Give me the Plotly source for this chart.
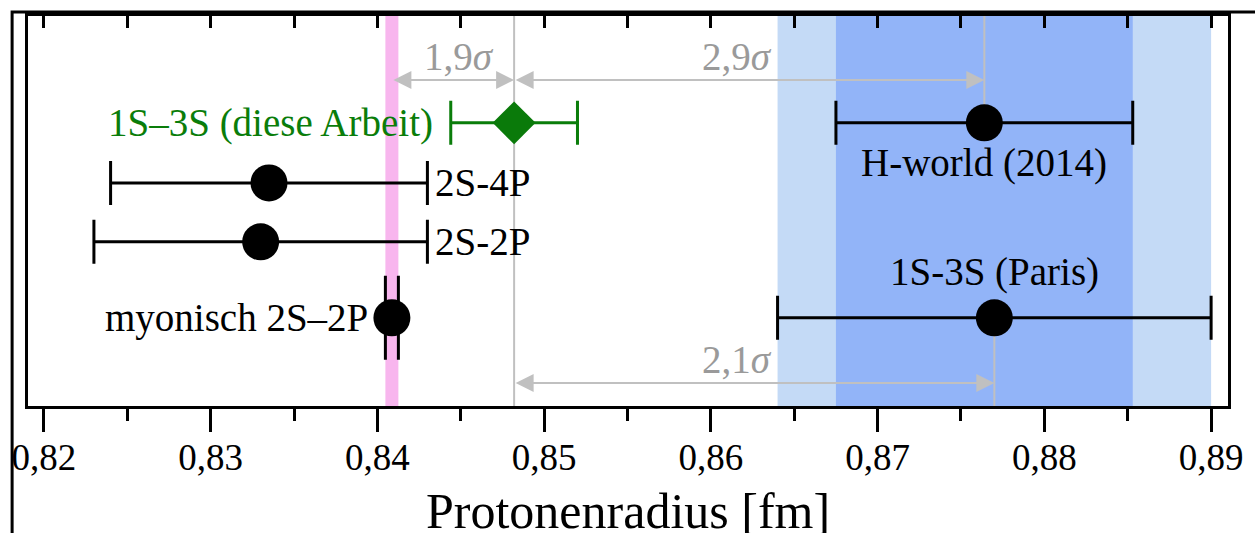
import plotly.graph_objects as go

# ---- data ----
labels = ["1S–3S (diese Arbeit)", "2S-4P", "2S-2P", "myonisch 2S–2P", "H-world (2014)", "1S-3S (Paris)"]
radius = [0.8482, 0.8335, 0.8330, 0.84087, 0.8764, 0.8770]
err = [0.0038, 0.0095, 0.0100, 0.00039, 0.0089, 0.0130]
sigma_labels = ["1,9<i>σ</i>", "2,9<i>σ</i>", "2,1<i>σ</i>"]
tick_vals = [0.82, 0.83, 0.84, 0.85, 0.86, 0.87, 0.88, 0.89]
tick_text = ["0,82", "0,83", "0,84", "0,85", "0,86", "0,87", "0,88", "0,89"]
minor_vals = [0.825, 0.835, 0.845, 0.855, 0.865, 0.875, 0.885]

# ---- layout constants (row positions in axis units, 0 bottom .. 10 top) ----
ROW = [7.26, 5.72, 4.21, 2.26, 7.26, 2.26]
Y_ARROW_TOP, Y_ARROW_BOT = 8.36, 0.59
Y_SIG_TOP, Y_SIG_BOT = 8.95, 1.18

FONT = "Liberation Serif"
GREEN = "#0a7d0a"
GRAY = "#c0c0c0"
TXTGRAY = "#9a9a9a"
FS = 39

fig = go.Figure()

shapes = [
    dict(type="rect", xref="x", yref="paper", x0=radius[5] - err[5], x1=radius[5] + err[5], y0=0, y1=1,
         fillcolor="#c4daf6", line_width=0, layer="below"),
    dict(type="rect", xref="x", yref="paper", x0=radius[4] - err[4], x1=radius[4] + err[4], y0=0, y1=1,
         fillcolor="#92b4f8", line_width=0, layer="below"),
    dict(type="rect", xref="x", yref="paper", x0=radius[3] - err[3], x1=radius[3] + err[3], y0=0, y1=1,
         fillcolor="#f8b6ee", line_width=0, layer="below"),
    dict(type="line", xref="x", yref="paper", x0=radius[0], x1=radius[0], y0=0, y1=1,
         line=dict(color=GRAY, width=2), layer="below"),
    dict(type="line", xref="x", yref="y", x0=radius[4], x1=radius[4], y0=ROW[4], y1=10,
         line=dict(color=GRAY, width=2), layer="below"),
    dict(type="line", xref="x", yref="y", x0=radius[5], x1=radius[5], y0=0, y1=ROW[5],
         line=dict(color=GRAY, width=2), layer="below"),
    # outer frame
    dict(type="rect", xref="paper", yref="paper", x0=-16 / 1208, x1=1.05, y0=-0.5, y1=1 + 4 / 390,
         line=dict(color="black", width=3), fillcolor="rgba(0,0,0,0)", layer="above"),
]

widths = {1: 22, 2: 22, 3: 42, 4: 22, 5: 22}
for i in [1, 2, 3, 4, 5]:
    fig.add_trace(go.Scatter(
        x=[radius[i]], y=[ROW[i]], mode="markers",
        marker=dict(symbol="circle", size=37, color="black"),
        error_x=dict(type="data", array=[err[i]], color="black", thickness=3, width=widths[i]),
        showlegend=False, hoverinfo="skip"))

fig.add_trace(go.Scatter(
    x=[radius[0]], y=[ROW[0]], mode="markers",
    marker=dict(symbol="diamond", size=33, color="#0a7a0a"),
    error_x=dict(type="data", array=[err[0]], color=GREEN, thickness=3, width=22),
    showlegend=False, hoverinfo="skip"))

ann = []
tf = dict(family=FONT, size=FS, color="black")
ann.append(dict(x=radius[0] - err[0], y=ROW[0], text=labels[0], xanchor="right", yanchor="middle",
                xshift=-16, showarrow=False, font=dict(family=FONT, size=FS, color=GREEN)))
ann.append(dict(x=radius[1] + err[1], y=ROW[1], text=labels[1], xanchor="left", yanchor="middle",
                xshift=6, showarrow=False, font=tf))
ann.append(dict(x=radius[2] + err[2], y=ROW[2], text=labels[2], xanchor="left", yanchor="middle",
                xshift=6, showarrow=False, font=tf))
ann.append(dict(x=radius[3], y=ROW[3], text=labels[3], xanchor="right", yanchor="middle",
                xshift=-22, showarrow=False, font=tf))
ann.append(dict(x=radius[4], y=ROW[4], text=labels[4], xanchor="center", yanchor="middle",
                yshift=-40, showarrow=False, font=tf))
ann.append(dict(x=radius[5], y=ROW[5], text=labels[5], xanchor="center", yanchor="middle",
                yshift=46, showarrow=False, font=tf))

arrow_style = dict(showarrow=True, arrowhead=2, startarrowhead=2, arrowside="end+start",
                   arrowcolor=GRAY, arrowwidth=2, arrowsize=1.8, startarrowsize=1.8,
                   axref="x", ayref="y", text="", standoff=0, startstandoff=0)
ann.append(dict(x=radius[0], y=Y_ARROW_TOP, ax=radius[3], ay=Y_ARROW_TOP, **arrow_style))
ann.append(dict(x=radius[4], y=Y_ARROW_TOP, ax=radius[0], ay=Y_ARROW_TOP, **arrow_style))
ann.append(dict(x=radius[5], y=Y_ARROW_BOT, ax=radius[0], ay=Y_ARROW_BOT, **arrow_style))

sf = dict(family=FONT, size=FS, color=TXTGRAY)
ann.append(dict(x=(radius[0] + radius[3]) / 2, y=Y_SIG_TOP, text=sigma_labels[0], xanchor="center",
                yanchor="middle", xshift=6, showarrow=False, font=sf))
ann.append(dict(x=radius[5] - err[5], y=Y_SIG_TOP, text=sigma_labels[1], xanchor="right",
                yanchor="middle", xshift=-4, showarrow=False, font=sf))
ann.append(dict(x=radius[5] - err[5], y=Y_SIG_BOT, text=sigma_labels[2], xanchor="right",
                yanchor="middle", xshift=-4, showarrow=False, font=sf))

ann.append(dict(xref="paper", yref="paper", x=0.5, y=-0.268, text="Protonenradius [fm]",
                xanchor="center", yanchor="middle", showarrow=False,
                font=dict(family=FONT, size=50, color="black")))

xr = [0.82 - 16 / 16786, 0.89 + 17 / 16786]
fig.update_layout(
    width=1255, height=533,
    margin=dict(l=27, r=20, t=16, b=127),
    paper_bgcolor="white", plot_bgcolor="white",
    shapes=shapes, annotations=ann,
    xaxis=dict(range=xr, tickvals=tick_vals, ticktext=tick_text, ticks="outside", ticklen=23,
               tickwidth=3, tickcolor="black", showgrid=False, zeroline=False,
               showline=True, linecolor="black", linewidth=3, mirror=True,
               ticklabelstandoff=-6,
               tickfont=dict(family=FONT, size=37, color="black"),
               minor=dict(tickvals=minor_vals, ticks="outside", ticklen=12, tickwidth=3,
                          tickcolor="black", showgrid=False)),
    xaxis2=dict(range=xr, overlaying="x", side="top", matches="x", tickvals=tick_vals + minor_vals,
                ticktext=[""] * 15, ticks="inside", ticklen=12, tickwidth=3, tickcolor="black",
                showgrid=False, zeroline=False, showline=False),
    yaxis=dict(range=[0, 10], showticklabels=False, ticks="", showgrid=False, zeroline=False,
               showline=True, linecolor="black", linewidth=3, mirror=True, fixedrange=True),
)
fig.add_trace(go.Scatter(x=[0.85], y=[-5], xaxis="x2", mode="markers", marker=dict(opacity=0),
                         showlegend=False, hoverinfo="skip"))

fig.write_html("out.html", config={"displayModeBar": False},
               post_script="document.body.style.margin='0';")
